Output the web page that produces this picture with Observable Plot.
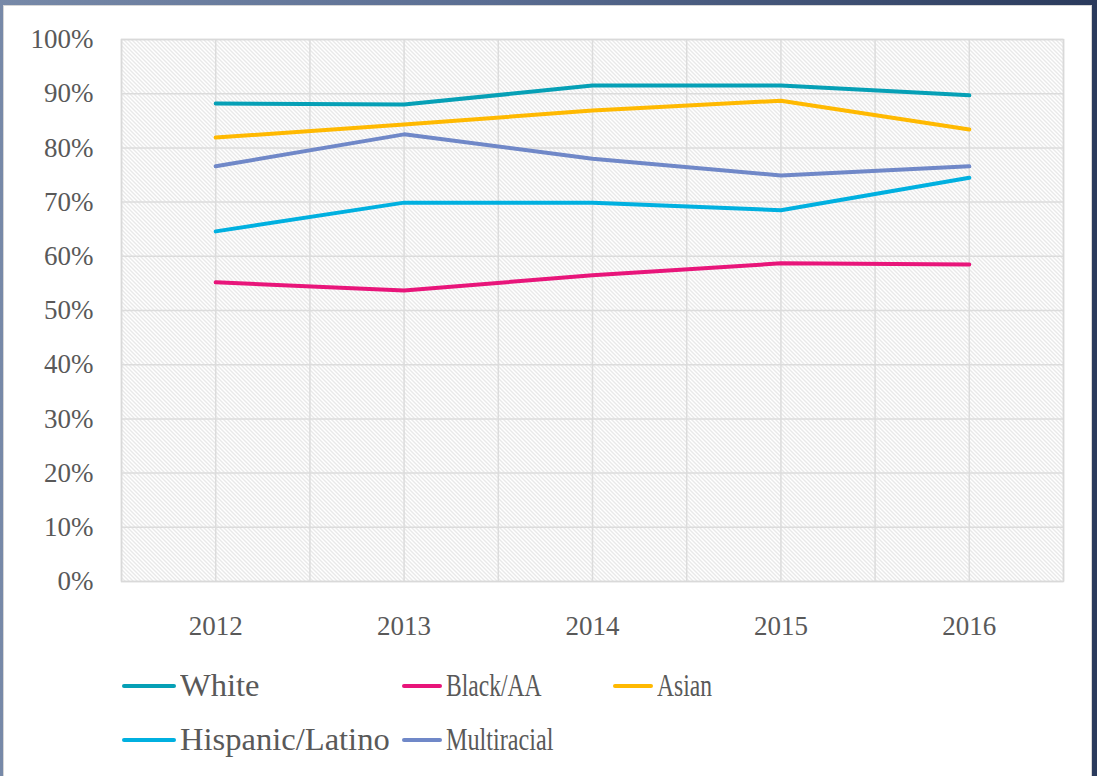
<!DOCTYPE html>
<html>
<head>
<meta charset="utf-8">
<script src="https://cdn.jsdelivr.net/npm/d3@7"></script>
<script src="https://cdn.jsdelivr.net/npm/@observablehq/plot@0.6"></script>
<style>
  html, body { margin: 0; padding: 0; width: 1097px; height: 776px; overflow: hidden; }
  body { background: linear-gradient(90deg, #7789a8 0%, #5a6d92 45%, #2a3a5c 100%); position: relative; font-family: "Liberation Serif", "DejaVu Serif", serif; }
  #panel { position: absolute; left: 3px; top: 5px; width: 1087px; height: 790px; background: #fff; border: 1.5px solid #d6d6d6; }
  #chart { position: absolute; left: 0; top: 0; }
  #chart svg, #chart svg text { font-family: "Liberation Serif", "DejaVu Serif", serif !important; }
  .leg { position: absolute; height: 34px; display: flex; align-items: center; }
  .sw { height: 4px; border-radius: 2px; flex: none; }
  .lab { font-size: 31px; color: #595959; white-space: nowrap; transform-origin: left center; margin-left: 4px; }
</style>
</head>
<body>
<div id="panel"></div>
<div id="chart"></div>
<div id="legend"></div>
<script>
const years = [2012, 2013, 2014, 2015, 2016];
const seriesNames = ["White", "Black/AA", "Asian", "Hispanic/Latino", "Multiracial"];
const white = [88.2, 88.0, 91.5, 91.5, 89.7];
const blackAA = [55.2, 53.7, 56.5, 58.7, 58.5];
const asian = [81.9, 84.3, 86.9, 88.7, 83.4];
const hispanic = [64.6, 69.9, 69.9, 68.5, 74.5];
const multiracial = [76.6, 82.5, 78.0, 74.9, 76.6];
const seriesColors = ["#06a0b6", "#e8157a", "#ffb901", "#00b0e0", "#7088c8"];
const yTicks = [0, 10, 20, 30, 40, 50, 60, 70, 80, 90, 100];

const seriesValues = [white, blackAA, asian, hispanic, multiracial];
const rows = [];
seriesNames.forEach((name, si) => {
  years.forEach((yr, i) => rows.push({series: name, year: yr, value: seriesValues[si][i]}));
});

const halfSteps = d3.range(years[0] - 0.5, years[years.length - 1] + 1, 0.5);

const plot = Plot.plot({
  width: 1097,
  height: 660,
  marginLeft: 121,
  marginRight: 34,
  marginTop: 39,
  marginBottom: 79,
  style: {color: "#595959", background: "transparent", overflow: "visible"},
  x: {type: "linear", domain: [years[0] - 0.5, years[years.length - 1] + 0.5]},
  y: {domain: [0, 100]},
  color: {domain: seriesNames, range: seriesColors},
  marks: [
    Plot.frame({fill: "url(#hatch)", stroke: "none"}),
    Plot.gridX(halfSteps, {stroke: "#dcdcdc", strokeOpacity: 1, strokeWidth: 1.5}),
    Plot.gridY(yTicks, {stroke: "#dcdcdc", strokeOpacity: 1, strokeWidth: 1.5}),
    Plot.frame({stroke: "#d9d9d9", strokeWidth: 1.5}),
    Plot.axisY(yTicks, {tickSize: 0, tickPadding: 28, fontSize: 27, fill: "#595959", tickFormat: d => d + "%", label: null}),
    Plot.axisX(years, {tickSize: 0, tickPadding: 34, fontSize: 27, fill: "#595959", tickFormat: d => String(d), label: null}),
    Plot.line(rows, {x: "year", y: "value", z: "series", stroke: "series", strokeWidth: 4, strokeLinecap: "round", strokeLinejoin: "round"})
  ]
});

const svgNS = "http://www.w3.org/2000/svg";
const defs = document.createElementNS(svgNS, "defs");
defs.innerHTML = '<pattern id="hatch" width="4" height="4" patternUnits="userSpaceOnUse">' +
  '<rect width="4" height="4" fill="#ffffff"/>' +
  '<path d="M-1,-1 L5,5 M-1,3 L1,5 M3,-1 L5,1" stroke="#d2d2d2" stroke-width="1"/></pattern>';
plot.insertBefore(defs, plot.firstChild);
document.getElementById("chart").appendChild(plot);

// legend
const legendItems = [
  {i: 0, x: 122, y: 686, sw: 54, sx: 1.05},
  {i: 1, x: 402, y: 686, sw: 40, sx: 0.76},
  {i: 2, x: 613, y: 686, sw: 40, sx: 0.76},
  {i: 3, x: 122, y: 740, sw: 54, sx: 1.05},
  {i: 4, x: 402, y: 740, sw: 40, sx: 0.78}
];
const leg = document.getElementById("legend");
legendItems.forEach(it => {
  const d = document.createElement("div");
  d.className = "leg";
  d.style.left = it.x + "px";
  d.style.top = (it.y - 17) + "px";
  const s = document.createElement("div");
  s.className = "sw";
  s.style.width = it.sw + "px";
  s.style.background = seriesColors[it.i];
  const t = document.createElement("span");
  t.className = "lab";
  t.textContent = seriesNames[it.i];
  t.style.transform = "scaleX(" + it.sx + ")";
  d.appendChild(s);
  d.appendChild(t);
  leg.appendChild(d);
});
</script>
</body>
</html>
